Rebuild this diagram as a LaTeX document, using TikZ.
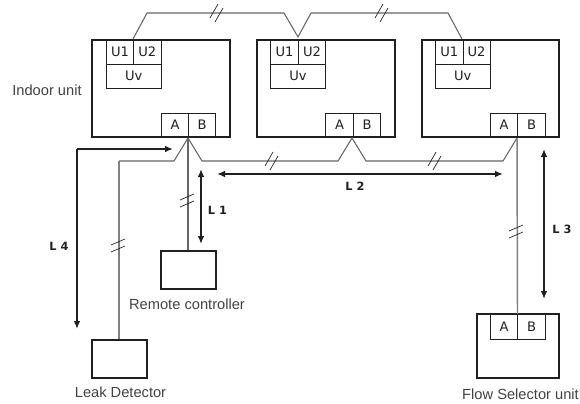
\documentclass[tikz,border=0pt]{standalone}
\usepackage{fontspec}
\setmainfont{Liberation Sans}
\newfontfamily\verd{DejaVu Sans}
\usetikzlibrary{arrows.meta}
\definecolor{ink}{HTML}{231F20}
\definecolor{wire}{HTML}{808080}
\tikzset{
  unitbox/.style={draw=ink,line width=1.5pt},
  termline/.style={draw=ink,line width=0.6pt},
  termtext/.style={text=ink,font=\verd\fontsize{9.8}{9.8}\selectfont,inner sep=0pt},
  wirethin/.style={draw=wire!80!black,line width=0.8pt},
  wirethick/.style={draw=wire,line width=1.1pt},
  dimline/.style={draw=ink,line width=1.3pt,{Latex[length=6pt,width=5pt]}-{Latex[length=6pt,width=5pt]}},
  dimone/.style={draw=ink,line width=1.3pt,-{Latex[length=6pt,width=5pt]}},
  brk/.style={draw=ink,line width=0.5pt},
  captext/.style={text=ink!85,font=\fontsize{11}{11}\selectfont,inner sep=0pt},
  dimlabel/.style={text=ink,font=\verd\bfseries\fontsize{8.5}{8.5}\selectfont,inner sep=0pt}
}
\begin{document}
\begin{tikzpicture}[x=0.75pt,y=-0.75pt]
\useasboundingbox (0,0) rectangle (580,403);
% unit frames
\draw[unitbox] (92,40) rectangle (230,137);
\draw[unitbox] (257,40) rectangle (395,137);
\draw[unitbox] (421.5,40) rectangle (559,137);
\draw[unitbox] (161,250.5) rectangle (216,289);
\draw[unitbox] (92,339.5) rectangle (147,378);
\draw[unitbox] (477,314) rectangle (559,378);
% terminals
\foreach \xa/\xb/\xc in {106.5/133.5/161, 270.5/298.5/325.5, 435.5/463/490}{
  \draw[termline] (\xa,40) rectangle (\xc,88);
  \draw[termline] (\xa,64) -- (\xc,64);
  \draw[termline] (\xb,40) -- (\xb,64);
  \node[termtext] at ({(\xa+\xb)/2},52) {U1};
  \node[termtext] at ({(\xb+\xc)/2},52) {U2};
  \node[termtext] at ({(\xa+\xc)/2},76) {Uv};
}
\foreach \xa/\xb/\xc/\ya/\yb in {161.5/188.5/215.5/113/137, 325.5/353.5/380.5/113/137, 490.5/517.5/545.5/113/137, 490.5/517.5/545.5/314/339}{
  \draw[termline] (\xa,\ya) rectangle (\xc,\yb);
  \draw[termline] (\xb,\ya) -- (\xb,\yb);
  \node[termtext] at ({(\xa+\xb)/2},{(\ya+\yb)/2}) {A};
  \node[termtext] at ({(\xb+\xc)/2},{(\ya+\yb)/2}) {B};
}
% named wire ends
\coordinate (ua) at (133,39);
\coordinate (ub) at (298,37);
\coordinate (uc) at (462,39);
\coordinate (pa) at (188,138);
\coordinate (pb) at (352,138);
\coordinate (pc) at (517,138);
\coordinate (rc) at (188,250);
\coordinate (ld) at (119,339);
\coordinate (fs) at (517.5,314);
% wires
\draw[wirethin] (ua) -- (147,13) -- (284,13) -- (ub) -- (311,13) -- (448,13) -- (uc);
\draw[wirethin] (pa) -- (174,161) -- (119,161);
\draw[wirethick] (119,161) -- (ld);
\draw[wirethin] (pa) -- (202,161) -- (338,161) -- (pb) -- (366,161) -- (503,161) -- (pc);
\draw[wirethin] (pa) -- (rc);
\draw[wirethick] (pc) -- (fs);
% break marks
\foreach \x/\y in {217/13,382/13,272/161,435/161}{
  \draw[brk] (\x-7,\y+5) -- (\x+1,\y-9);
  \draw[brk] (\x-2,\y+9) -- (\x+6,\y-5);
}
\foreach \x/\y in {187/201,118/246,516/232}{
  \draw[brk] (\x-7,\y-1) -- (\x+7,\y-7);
  \draw[brk] (\x-7,\y+6) -- (\x+7,\y);
}
% dimension arrows
\draw[dimone] (77,149) -- (173,149);
\draw[dimone] (77,149) -- (77,329);
\draw[dimline] (201,169) -- (201,244);
\draw[dimline] (217,174) -- (503,174);
\draw[dimline] (544,149) -- (544,299);
% labels
\node[dimlabel] at (217.5,210) {L 1};
\node[dimlabel] at (355,186) {L 2};
\node[dimlabel] at (562,229) {L 3};
\node[dimlabel] at (59,246) {L 4};
\node[captext] at (47,90.5) {Indoor unit};
\node[captext] at (187,304) {Remote controller};
\node[captext] at (120.5,392) {Leak Detector};
\node[captext] at (520.5,394) {Flow Selector unit};
\end{tikzpicture}
\end{document}
